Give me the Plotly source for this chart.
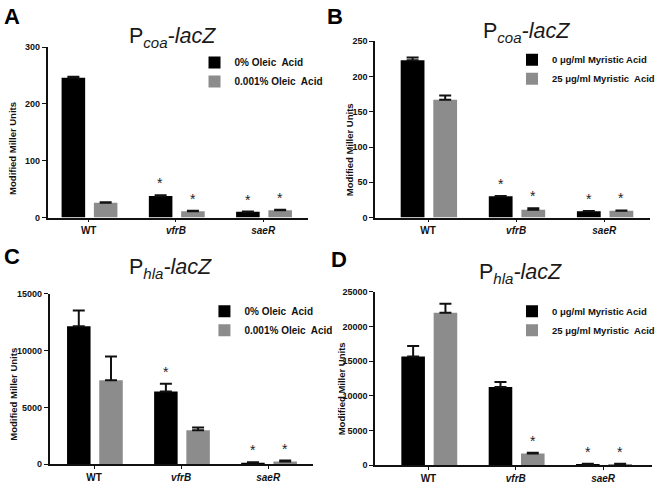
import plotly.graph_objects as go

# ---------------- data ----------------
strains = ["WT", "vfrB", "saeR"]
strain_labels = ["<b>WT</b>", "<b><i>vfrB</i></b>", "<b><i>saeR</i></b>"]

# Panel A: Pcoa-lacZ, oleic acid
a_ctrl = [246, 38, 10]
a_ctrl_err = [2, 1, 0.5]
a_trt = [26, 11, 13]
a_trt_err = [1, 0.8, 0.6]
a_ctrl_star = ["", "*", "*"]
a_trt_star = ["", "*", "*"]

# Panel B: Pcoa-lacZ, myristic acid
b_ctrl = [223, 30, 9]
b_ctrl_err = [4, 0.5, 0.3]
b_trt = [167, 11, 9.5]
b_trt_err = [6, 2, 0.5]
b_ctrl_star = ["", "*", "*"]
b_trt_star = ["", "*", "*"]

# Panel C: Phla-lacZ, oleic acid
c_ctrl = [12150, 6400, 150]
c_ctrl_err = [1400, 700, 30]
c_trt = [7400, 3000, 250]
c_trt_err = [2100, 250, 80]
c_ctrl_star = ["", "*", "*"]
c_trt_star = ["", "", "*"]

# Panel D: Phla-lacZ, myristic acid
d_ctrl = [15700, 11300, 200]
d_ctrl_err = [1500, 700, 30]
d_trt = [22000, 1700, 200]
d_trt_err = [1300, 100, 30]
d_ctrl_star = ["", "", "*"]
d_trt_star = ["", "*", "*"]

oleic_names = ["0% Oleic  Acid", "0.001% Oleic  Acid"]
myristic_names = ["0 \u03bcg/ml Myristic Acid", "25 \u03bcg/ml Myristic  Acid"]

# ---------------- style ----------------
FONT = "Liberation Sans, Arial, sans-serif"
BLACK = "#000000"
GRAY = "#8c8c8c"
W = 660
H = 485

fig = go.Figure()

panels = [
    (a_ctrl, a_ctrl_err, a_trt, a_trt_err, a_ctrl_star, a_trt_star, oleic_names, "", "legend"),
    (b_ctrl, b_ctrl_err, b_trt, b_trt_err, b_ctrl_star, b_trt_star, myristic_names, "2", "legend2"),
    (c_ctrl, c_ctrl_err, c_trt, c_trt_err, c_ctrl_star, c_trt_star, oleic_names, "3", "legend3"),
    (d_ctrl, d_ctrl_err, d_trt, d_trt_err, d_ctrl_star, d_trt_star, myristic_names, "4", "legend4"),
]

BAR_W = 0.27
OFF_CTRL = -0.31
OFF_TRT = 0.06

annotations = []
for ctrl, ctrl_err, trt, trt_err, cstar, tstar, names, sfx, leg in panels:
    for vals, errs, color, off, name in [
        (ctrl, ctrl_err, BLACK, OFF_CTRL, names[0]),
        (trt, trt_err, GRAY, OFF_TRT, names[1]),
    ]:
        fig.add_trace(go.Bar(
            x=strains, y=vals, name=name,
            marker=dict(color=color, line=dict(width=0)),
            width=BAR_W, offset=off,
            error_y=dict(type="data", array=errs, arrayminus=[0] * len(errs),
                         symmetric=False, color="#111111", thickness=2, width=6),
            xaxis="x" + sfx, yaxis="y" + sfx, legend=leg,
        ))
    for stars, vals, errs, off in [(cstar, ctrl, ctrl_err, OFF_CTRL), (tstar, trt, trt_err, OFF_TRT)]:
        for s, cat, v, e in zip(stars, strains, vals, errs):
            if s:
                annotations.append(dict(
                    text=s, x=cat, y=v + e, xref="x" + sfx, yref="y" + sfx,
                    xshift=(off + BAR_W / 2) * 88, yshift=2, yanchor="bottom",
                    showarrow=False, font=dict(family=FONT, size=14, color="#222222"),
                ))

xdom = {"": [48 / W, 310 / W], "2": [378 / W, 655 / W], "3": [50 / W, 315 / W], "4": [378 / W, 657 / W]}
ydom = {"": [268 / H, 442 / H], "2": [268 / H, 448 / H], "3": [16 / H, 190 / H], "4": [15 / H, 192 / H]}
xrng = {"": [-0.47, 2.51], "2": [-0.6, 2.52], "3": [-0.51, 2.51], "4": [-0.61, 2.56]}
yrng = {"": [0, 300], "2": [0, 250], "3": [0, 15000], "4": [0, 25000]}
ydt = {"": 100, "2": 50, "3": 5000, "4": 5000}

ytickfont = dict(family=FONT, size=9, color="#111111", weight="bold")
xtickfont = dict(family=FONT, size=10, color="#111111", weight="bold")
layout_axes = {}
for sfx in ["", "2", "3", "4"]:
    layout_axes["xaxis" + sfx] = dict(
        domain=xdom[sfx], anchor="y" + sfx, type="category", range=xrng[sfx],
        tickmode="array", tickvals=strains, ticktext=strain_labels,
        showline=True, linecolor="#111111", linewidth=1.5,
        ticks="outside", ticklen=3, tickwidth=1, tickcolor="#111111",
        showgrid=False, zeroline=False, tickfont=xtickfont, fixedrange=True,
    )
    layout_axes["yaxis" + sfx] = dict(
        domain=ydom[sfx], anchor="x" + sfx, range=yrng[sfx], dtick=ydt[sfx],
        tickformat="d",
        showline=True, linecolor="#111111", linewidth=1.5,
        ticks="outside", ticklen=4, tickwidth=1.2, tickcolor="#111111",
        showgrid=False, zeroline=False, tickfont=ytickfont, fixedrange=True,
    )

for xp, yp in [(13, 146), (353, 148), (14, 397), (345, 392)]:
    annotations.append(dict(
        text="<b>Modified Miller Units</b>", x=xp / W, y=1 - yp / H, xref="paper", yref="paper",
        textangle=-90, showarrow=False, xanchor="center", yanchor="middle",
        font=dict(family=FONT, size=9.5, color="#111111"),
    ))

titles = [
    ("P<sub><i>coa</i></sub><i>-lacZ</i>", 174, 33),
    ("P<sub><i>coa</i></sub><i>-lacZ</i>", 531, 28),
    ("P<sub><i>hla</i></sub><i>-lacZ</i>", 172, 269),
    ("P<sub><i>hla</i></sub><i>-lacZ</i>", 524, 274),
]
for t, xp, yp in titles:
    annotations.append(dict(
        text=t, x=xp / W, y=1 - yp / H, xref="paper", yref="paper",
        showarrow=False, xanchor="center", yanchor="middle",
        font=dict(family=FONT, size=21.5, color="#1a1a1a"),
    ))

for letter, xp, yp in [("A", 12, 12), ("B", 338, 12), ("C", 12, 257), ("D", 342, 260)]:
    annotations.append(dict(
        text="<b>" + letter + "</b>", x=xp / W, y=1 - yp / H, xref="paper", yref="paper",
        showarrow=False, xanchor="center", yanchor="middle",
        font=dict(family=FONT, size=22, color="#000000"),
    ))


def leg(xp, yp, size):
    return dict(x=xp / W, y=1 - yp / H, xanchor="left", yanchor="top",
                font=dict(family=FONT, size=size, color="#111111", weight="bold"),
                bgcolor="rgba(0,0,0,0)", itemwidth=30, tracegroupgap=0, traceorder="normal")


fig.update_layout(
    width=W, height=H,
    margin=dict(l=0, r=0, t=0, b=0),
    paper_bgcolor="white", plot_bgcolor="white",
    barmode="overlay", showlegend=True,
    font=dict(family=FONT, color="#111111"),
    legend=leg(196, 44, 10),
    legend2=leg(516, 41, 9.5),
    legend3=leg(206, 298, 10),
    legend4=leg(516, 298, 9.5),
    annotations=annotations,
    **layout_axes,
)

fig.write_html(
    "out.html",
    config={"displayModeBar": False},
    post_script="document.body.style.margin='0px';document.body.style.overflow='hidden';",
)
